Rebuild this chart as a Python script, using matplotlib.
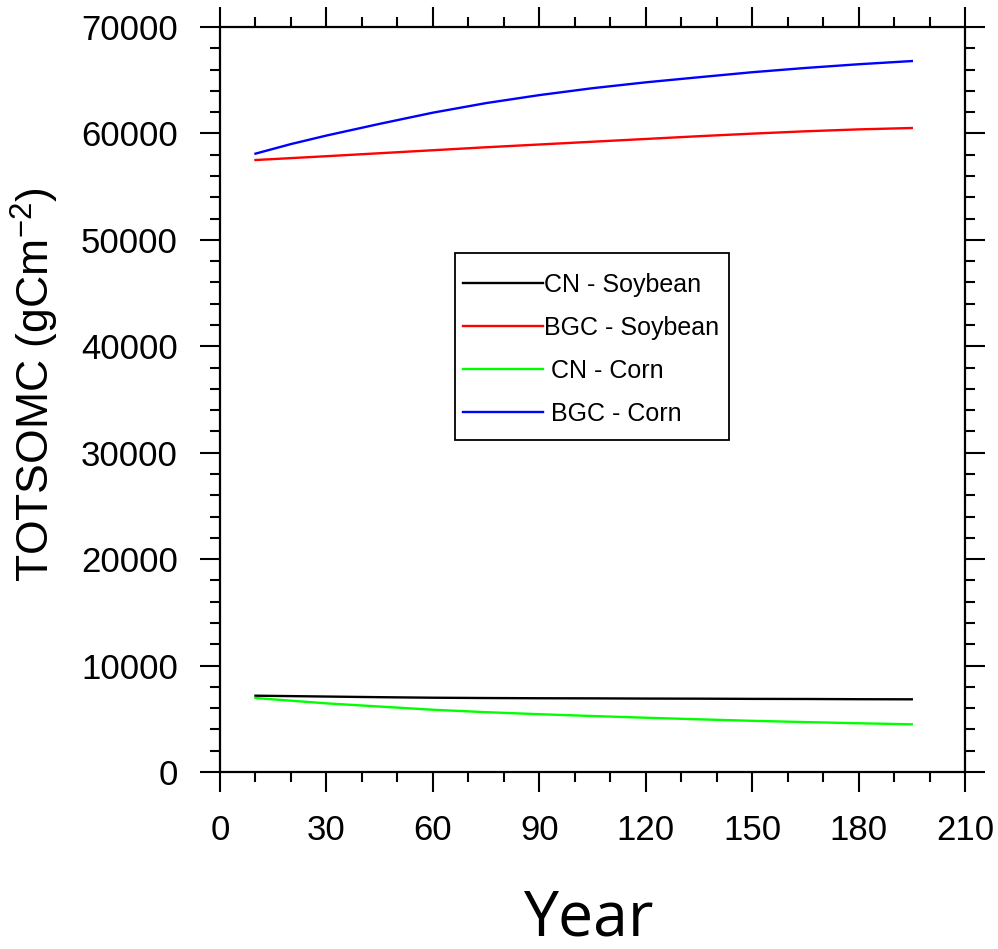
import matplotlib
matplotlib.use("Agg")
import matplotlib.pyplot as plt
from matplotlib.ticker import MultipleLocator
from matplotlib.patches import Rectangle

plt.rcParams['font.family'] = ['Liberation Sans', 'DejaVu Sans']
plt.rcParams['mathtext.fontset'] = 'custom'
plt.rcParams['mathtext.rm'] = 'Liberation Sans'
plt.rcParams['mathtext.it'] = 'Liberation Sans'
plt.rcParams['mathtext.default'] = 'regular'

# Data
years = [10, 20, 30, 45, 60, 75, 90, 105, 120, 135, 150, 165, 180, 195]
cn_soybean = [7170, 7130, 7090, 7030, 6980, 6950, 6930, 6920, 6900, 6890, 6870, 6860, 6840, 6830]
bgc_soybean = [57500, 57680, 57860, 58140, 58420, 58700, 58960, 59220, 59480, 59740, 59980, 60200, 60380, 60510]
cn_corn = [6950, 6700, 6450, 6150, 5850, 5620, 5430, 5260, 5100, 4950, 4810, 4690, 4580, 4480]
bgc_corn = [58100, 59000, 59800, 60900, 61950, 62850, 63600, 64250, 64800, 65280, 65750, 66150, 66500, 66800]

series = [
    ("CN - Soybean", cn_soybean, "#000000"),
    ("BGC - Soybean", bgc_soybean, "#ff0000"),
    (" CN - Corn", cn_corn, "#00ff00"),
    (" BGC - Corn", bgc_corn, "#0000ff"),
]

W, H = 998, 949
fig = plt.figure(figsize=(W / 100, H / 100), dpi=100)
ax = fig.add_axes([220 / W, 1 - 772 / H, (965 - 220) / W, (772 - 27) / H])

for label, vals, col in series:
    ax.plot(years, vals, color=col, linewidth=1.7, label=label)

ax.set_xlim(0, 210)
ax.set_ylim(0, 70000)
ax.xaxis.set_major_locator(MultipleLocator(30))
ax.xaxis.set_minor_locator(MultipleLocator(10))
ax.yaxis.set_major_locator(MultipleLocator(10000))
ax.yaxis.set_minor_locator(MultipleLocator(2000))

for s in ax.spines.values():
    s.set_linewidth(1.6)

ax.tick_params(which='both', direction='out', top=True, right=True,
               labeltop=False, labelright=False, width=1.5)
ax.tick_params(which='major', length=14.4, labelsize=25)
ax.tick_params(axis='y', which='major', pad=16)
ax.tick_params(axis='x', which='major', pad=16)
ax.tick_params(which='minor', length=7.2)

ax.set_ylabel("TOTSOMC (gCm$^{-2}$)", fontsize=32)
ax.yaxis.set_label_coords(-0.213, 0.52)

ax.set_xlabel("Year", fontsize=45, family=['Open Sans', 'DejaVu Sans'])
ax.xaxis.label.set_va('baseline')
ax.xaxis.set_label_coords((588 - 220) / 745, (772 - 935) / 745)

# Legend: entries without frame, plus a separate box
leg = ax.legend(loc='center left', bbox_to_anchor=(463 / W, 1 - 349.5 / H),
                bbox_transform=fig.transFigure, borderaxespad=0,
                fontsize=18, handlelength=3.2, handletextpad=0.05,
                borderpad=0, labelspacing=0.76, frameon=False)
fig.patches.append(Rectangle((455 / W, 1 - 440 / H), (729 - 455) / W, (440 - 253) / H,
                             transform=fig.transFigure, fill=False,
                             edgecolor='black', linewidth=1.3, zorder=10))

fig.savefig("out.png", dpi=100)
